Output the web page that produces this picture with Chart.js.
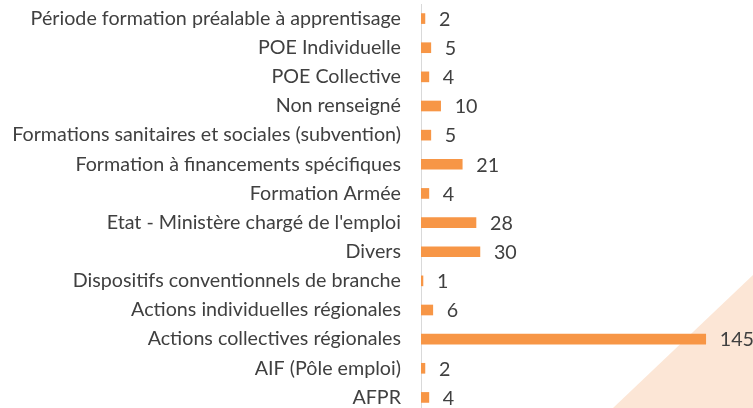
<!DOCTYPE html>
<html>
<head>
<meta charset="utf-8">
<script src="https://cdn.jsdelivr.net/npm/chart.js@4/dist/chart.umd.min.js"></script>
<style>
  html, body { margin: 0; padding: 0; background: #fff; overflow: hidden; }
  #wrap { position: relative; width: 753px; height: 408px; overflow: hidden; }
  /* coin décoratif en bas à droite */
  #deco {
    position: absolute; left: 0; top: 0; width: 753px; height: 408px;
    background: #FCE6D6;
    clip-path: polygon(753px 275px, 753px 408px, 613px 408px);
  }
  #chart { position: absolute; left: 0; top: 0; }
</style>
</head>
<body>
<div id="wrap">
  <div id="deco"></div>
  <canvas id="chart" width="753" height="412"></canvas>
</div>
<script>
// Données (de haut en bas)
const categories = [
  'Période formation préalable à apprentisage',
  'POE Individuelle',
  'POE Collective',
  'Non renseigné',
  'Formations sanitaires et sociales (subvention)',
  'Formation à financements spécifiques',
  'Formation Armée',
  "Etat - Ministère chargé de l'emploi",
  'Divers',
  'Dispositifs conventionnels de branche',
  'Actions individuelles régionales',
  'Actions collectives régionales',
  'AIF (Pôle emploi)',
  'AFPR'
];
const values = [2, 5, 4, 10, 5, 21, 4, 28, 30, 1, 6, 145, 2, 4];

const FONT = 'Lato, "Open Sans", sans-serif';
const FONT_SIZE = 19.7;

// Étiquettes de valeur à droite des barres
const valueLabels = {
  id: 'valueLabels',
  afterDatasetsDraw(chart) {
    const ctx = chart.ctx;
    const meta = chart.getDatasetMeta(0);
    ctx.save();
    ctx.fillStyle = '#404040';
    ctx.font = FONT_SIZE + 'px ' + FONT;
    ctx.textAlign = 'left';
    ctx.textBaseline = 'middle';
    meta.data.forEach((bar, i) => {
      ctx.fillText(String(values[i]), bar.x + 14, bar.y + 1);
    });
    ctx.restore();
  }
};

const ctx = document.getElementById('chart').getContext('2d');
new Chart(ctx, {
  type: 'bar',
  data: {
    labels: categories,
    datasets: [{
      data: values,
      backgroundColor: '#F79646',
      borderWidth: 0,
      barThickness: 10
    }]
  },
  options: {
    indexAxis: 'y',
    responsive: false,
    animation: false,
    layout: { padding: { left: 0, top: 4, right: 8, bottom: 0 } },
    plugins: {
      legend: { display: false },
      tooltip: { enabled: false }
    },
    scales: {
      x: {
        display: false,
        min: 0,
        max: 165
      },
      y: {
        grid: { display: false, drawTicks: false },
        border: { display: true, color: '#D9D9D9', width: 1 },
        ticks: {
          color: '#404040',
          padding: 20,
          autoSkip: false,
          font: { family: FONT, size: FONT_SIZE }
        },
        afterFit(scale) {
          // largeur fixe pour les libellés, pas de marge haute/basse
          scale.width = 421;
          scale.paddingTop = 0;
          scale.paddingBottom = 0;
        }
      }
    }
  },
  plugins: [valueLabels]
});
</script>
</body>
</html>
